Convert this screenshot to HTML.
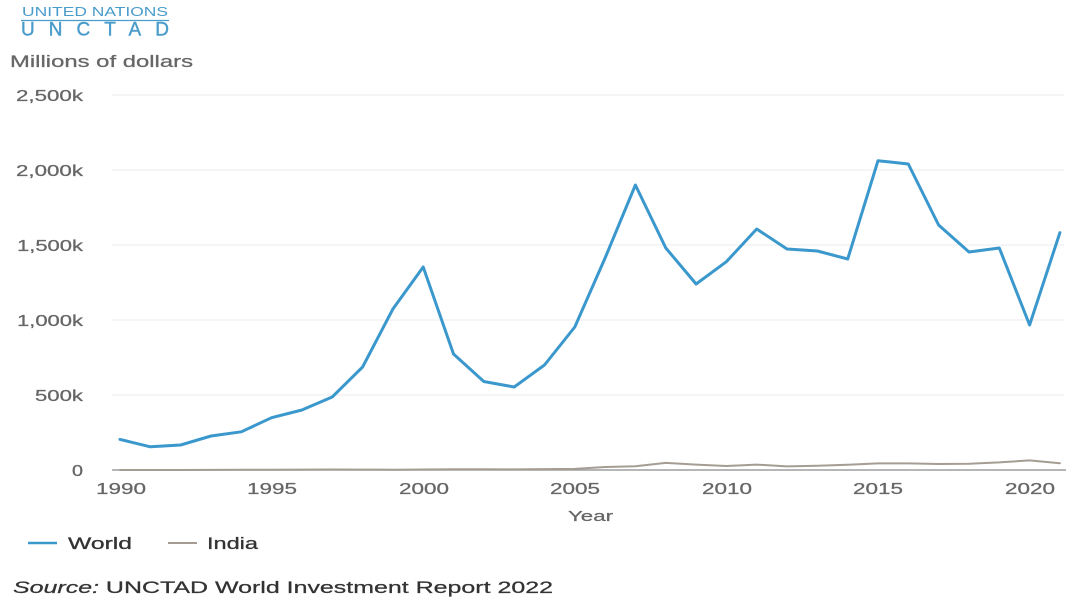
<!DOCTYPE html>
<html>
<head>
<meta charset="utf-8">
<style>
html,body{margin:0;padding:0;background:#fff;}
svg{display:block;}
text{font-family:"Liberation Sans",Arial,sans-serif;}
</style>
</head>
<body>
<svg width="1073" height="605" viewBox="0 0 1073 605" xmlns="http://www.w3.org/2000/svg">
<rect width="1073" height="605" fill="#fff"/>
<!-- header -->
<text x="22" y="16" font-size="12.5" fill="#4a9ccb" textLength="146" lengthAdjust="spacingAndGlyphs">UNITED NATIONS</text>
<line x1="21" y1="20.5" x2="169" y2="20.5" stroke="#4a9ccb" stroke-width="1.2"/>
<text x="21" y="35.5" font-size="19" fill="#4a9ccb" stroke="#4a9ccb" stroke-width="0.4" textLength="148" lengthAdjust="spacing">UNCTAD</text>
<text x="10" y="67" font-size="16.5" fill="#666" stroke="#666" stroke-width="0.25" textLength="183" lengthAdjust="spacingAndGlyphs">Millions of dollars</text>

<!-- gridlines -->
<g stroke="#ebebeb" stroke-width="1">
<line x1="112" y1="95" x2="1064" y2="95"/>
<line x1="112" y1="170" x2="1064" y2="170"/>
<line x1="112" y1="245" x2="1064" y2="245"/>
<line x1="112" y1="320" x2="1064" y2="320"/>
<line x1="112" y1="395" x2="1064" y2="395"/>
</g>
<line x1="112" y1="470" x2="1066" y2="470" stroke="#9e9e9e" stroke-width="1.6"/>

<!-- y labels -->
<g font-size="15.5" fill="#666" stroke="#666" stroke-width="0.25" text-anchor="end">
<text x="83" y="101" textLength="67" lengthAdjust="spacingAndGlyphs">2,500k</text>
<text x="83" y="176" textLength="67" lengthAdjust="spacingAndGlyphs">2,000k</text>
<text x="83" y="251" textLength="66" lengthAdjust="spacingAndGlyphs">1,500k</text>
<text x="83" y="326" textLength="66" lengthAdjust="spacingAndGlyphs">1,000k</text>
<text x="83" y="401" textLength="48" lengthAdjust="spacingAndGlyphs">500k</text>
<text x="83" y="476" textLength="11" lengthAdjust="spacingAndGlyphs">0</text>
</g>

<!-- x labels -->
<g font-size="15.5" fill="#666" stroke="#666" stroke-width="0.25" text-anchor="middle">
<text x="121" y="494" textLength="50" lengthAdjust="spacingAndGlyphs">1990</text>
<text x="272" y="494" textLength="50" lengthAdjust="spacingAndGlyphs">1995</text>
<text x="424" y="494" textLength="50" lengthAdjust="spacingAndGlyphs">2000</text>
<text x="575" y="494" textLength="50" lengthAdjust="spacingAndGlyphs">2005</text>
<text x="727" y="494" textLength="50" lengthAdjust="spacingAndGlyphs">2010</text>
<text x="878" y="494" textLength="50" lengthAdjust="spacingAndGlyphs">2015</text>
<text x="1030" y="494" textLength="50" lengthAdjust="spacingAndGlyphs">2020</text>
</g>
<text x="590.5" y="521" font-size="15" fill="#666" stroke="#666" stroke-width="0.25" text-anchor="middle" textLength="45" lengthAdjust="spacingAndGlyphs">Year</text>

<!-- India series -->
<polyline fill="none" stroke="#a59d94" stroke-width="2" stroke-linejoin="round" stroke-linecap="round"
points="120,470 150.3,470 180.6,470 211,469.9 241.3,469.8 271.6,469.7 301.9,469.6 332.2,469.5 362.6,469.6 392.9,469.7 423.2,469.5 453.5,469.2 483.8,469.2 514.2,469.4 544.5,469.1 574.8,468.9 605.1,467 635.4,466.3 665.8,462.9 696.1,464.6 726.4,466 756.7,464.6 787,466.4 817.4,465.8 847.7,464.8 878,463.4 908.3,463.4 938.6,464 969,463.7 999.3,462.4 1029.6,460.4 1059.9,463.3"/>

<!-- World series -->
<polyline fill="none" stroke="#3b98cd" stroke-width="3" stroke-linejoin="round" stroke-linecap="round"
points="120,439.4 150.3,446.8 180.6,445 211,436 241.3,431.8 271.6,417.7 301.9,410 332.2,397 362.6,367 392.9,309 423.2,267 453.5,354 483.8,381.5 514.2,387 544.5,365 574.8,327 605.1,258 635.4,185 665.8,248 696.1,284 726.4,261.7 756.7,229 787,249 817.4,251 847.7,259 878,160.7 908.3,164 938.6,225 969,252 999.3,248 1029.6,325 1059.9,232.7"/>

<!-- legend -->
<line x1="28" y1="543" x2="57" y2="543" stroke="#3b98cd" stroke-width="2.5"/>
<text x="68" y="549" font-size="17" fill="#333" stroke="#333" stroke-width="0.3" textLength="64" lengthAdjust="spacingAndGlyphs">World</text>
<line x1="168" y1="543" x2="197" y2="543" stroke="#a59d94" stroke-width="2"/>
<text x="207" y="549" font-size="17" fill="#333" stroke="#333" stroke-width="0.3" textLength="51" lengthAdjust="spacingAndGlyphs">India</text>

<!-- source -->
<text x="13" y="593" font-size="17" fill="#333" stroke="#333" stroke-width="0.25" textLength="540" lengthAdjust="spacingAndGlyphs"><tspan font-style="italic">Source:</tspan> UNCTAD World Investment Report 2022</text>
</svg>
</body>
</html>
